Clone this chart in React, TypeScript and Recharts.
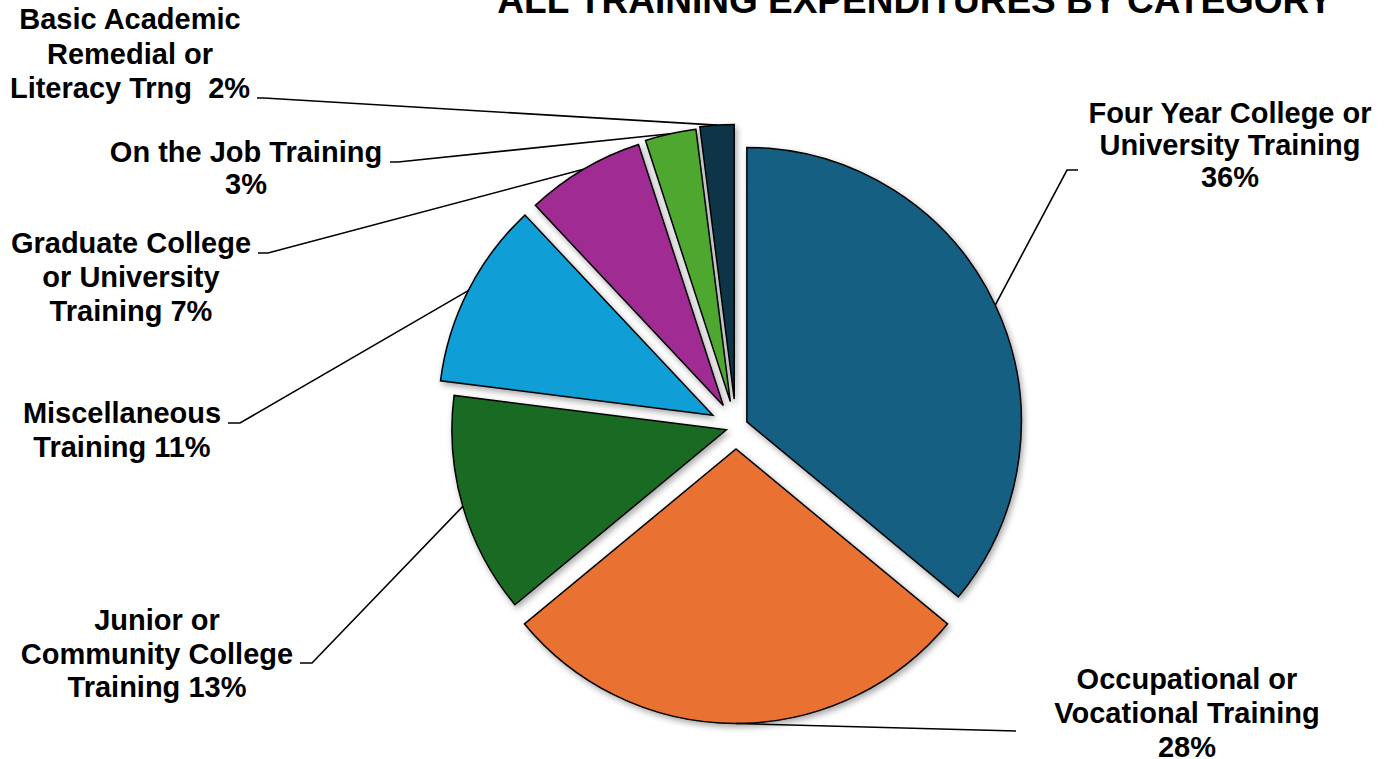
import React from "react";
import { PieChart, Pie, Cell, Sector } from "recharts";

const categories = [
  "Four Year College or\nUniversity Training",
  "Occupational or\nVocational Training",
  "Junior or\nCommunity College\nTraining",
  "Miscellaneous\nTraining",
  "Graduate College\nor University\nTraining",
  "On the Job Training",
  "Basic Academic\nRemedial or\nLiteracy Trng ",
];
const values = [36, 28, 13, 11, 7, 3, 2];
// whether the percentage sits on its own line under the name
const pctOwnLine = [true, true, false, false, false, true, false];

const colors = ["#156082", "#E97132", "#196B24", "#0F9ED5", "#A02B93", "#4EA72E", "#0E3447"];
// how far each slice is pulled out from the centre (px)
const explode = [12, 22, 10, 26, 25, 26, 28];

// label block: centre x, first baseline, line height, leader end + elbow
const labelLayout = [
  { x: 1230, y: 123, lh: 32, end: [1078, 170], elbow: [1067, 170] },
  { x: 1187, y: 689, lh: 34, end: [1016, 731], elbow: null },
  { x: 157, y: 630, lh: 33.5, end: [300, 663], elbow: [312, 663] },
  { x: 122, y: 423, lh: 34, end: [228, 423], elbow: [240, 423] },
  { x: 131, y: 253, lh: 34, end: [258, 253], elbow: [268, 253] },
  { x: 246, y: 162, lh: 32, end: [390, 162], elbow: [398, 162] },
  { x: 130, y: 29, lh: 34.5, end: [257, 98], elbow: [264, 98] },
];

const data = categories.map((name, idx) => ({ name, value: values[idx], idx }));

const FONT = "'Liberation Sans', Arial, sans-serif";
const RAD = Math.PI / 180;
const polar = (cx: number, cy: number, r: number, angle: number) => [
  cx + r * Math.cos(-angle * RAD),
  cy + r * Math.sin(-angle * RAD),
];

const ExplodedSlice = (props: any) => {
  const i = props.payload?.idx ?? props.index ?? 0;
  const [ox, oy] = polar(0, 0, explode[i], props.midAngle);
  return (
    <g style={{ filter: "drop-shadow(2px 3px 3px rgba(0,0,0,0.35))" }}>
      <Sector {...props} cx={props.cx + ox} cy={props.cy + oy} />
    </g>
  );
};

const renderLabel = (props: any) => {
  const { cx, cy, midAngle, outerRadius, index, percent } = props;
  const lay = labelLayout[index];
  const [ox, oy] = polar(0, 0, explode[index], midAngle);
  const [sx, sy] = polar(cx + ox, cy + oy, outerRadius, midAngle);
  const pts = [[sx, sy]];
  if (lay.elbow) pts.push(lay.elbow);
  pts.push(lay.end);
  const text =
    categories[index] + (pctOwnLine[index] ? "\n" : " ") + Math.round(percent * 100) + "%";
  const lines = text.split("\n");
  return (
    <g key={"lbl" + index}>
      <polyline
        points={pts.map((p) => p.join(",")).join(" ")}
        fill="none"
        stroke="#000"
        strokeWidth={1.6}
      />
      <text
        textAnchor="middle"
        fontFamily={FONT}
        fontWeight="bold"
        fontSize={29}
        fill="#000"
        style={{ whiteSpace: "pre" }}
      >
        {lines.map((ln, k) => (
          <tspan key={k} x={lay.x} y={lay.y + k * lay.lh}>
            {ln}
          </tspan>
        ))}
      </text>
    </g>
  );
};

export default function App() {
  return (
    <div
      style={{
        position: "absolute",
        left: 0,
        top: 0,
        width: 1392,
        height: 759,
        background: "#fff",
        overflow: "hidden",
      }}
    >
      <PieChart width={1392} height={759} margin={{ top: 0, right: 0, bottom: 0, left: 0 }}>
        <Pie
          data={data}
          dataKey="value"
          nameKey="name"
          cx={736}
          cy={427}
          outerRadius={274.5}
          startAngle={90}
          endAngle={-270}
          stroke="#000"
          strokeWidth={1.5}
          shape={ExplodedSlice}
          label={renderLabel}
          labelLine={false}
          isAnimationActive={false}
        >
          {data.map((d) => (
            <Cell key={d.name} fill={colors[d.idx]} />
          ))}
        </Pie>
      </PieChart>
      <svg
        width={1392}
        height={60}
        style={{ position: "absolute", left: 0, top: 0, pointerEvents: "none" }}
      >
        <text
          x={915}
          y={13}
          textAnchor="middle"
          fontFamily={FONT}
          fontWeight="bold"
          fontSize={37}
          fill="#000"
        >
          ALL TRAINING EXPENDITURES BY CATEGORY
        </text>
      </svg>
    </div>
  );
}
